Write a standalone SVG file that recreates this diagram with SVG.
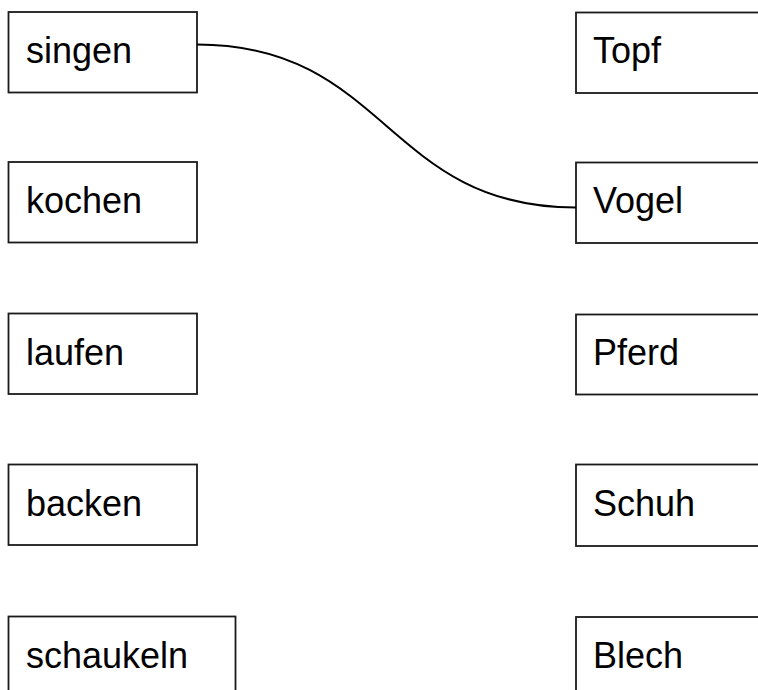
<svg xmlns="http://www.w3.org/2000/svg" width="758" height="690" viewBox="0 0 758 690">
<style>
.box{fill:#fff;stroke:#1a1a1a;stroke-width:1.8}
.t{font-family:"Liberation Sans","Noto Sans",sans-serif;font-size:36px;fill:#000}
.c{fill:none;stroke:#000;stroke-width:2}
</style>
<rect width="758" height="690" fill="#fff"/>
<g id="n-singen"><rect class="box" x="8.5" y="12" width="188.5" height="80.5"/><text class="t" x="26" y="63">singen</text></g>
<g id="n-kochen"><rect class="box" x="8.5" y="162" width="188.5" height="80.5"/><text class="t" x="26" y="213">kochen</text></g>
<g id="n-laufen"><rect class="box" x="8.5" y="313.5" width="188.5" height="80.5"/><text class="t" x="26" y="364.5">laufen</text></g>
<g id="n-backen"><rect class="box" x="8.5" y="464.5" width="188.5" height="80.5"/><text class="t" x="26" y="515.5">backen</text></g>
<g id="n-schaukeln"><rect class="box" x="8.5" y="616.5" width="227" height="90"/><text class="t" x="26" y="667.5">schaukeln</text></g>
<g id="n-topf"><rect class="box" x="576" y="12.5" width="200" height="80.5"/><text class="t" x="593" y="63">Topf</text></g>
<g id="n-vogel"><rect class="box" x="576" y="162.5" width="200" height="80.5"/><text class="t" x="593" y="213">Vogel</text></g>
<g id="n-pferd"><rect class="box" x="576" y="314.5" width="200" height="80"/><text class="t" x="593" y="364.5">Pferd</text></g>
<g id="n-schuh"><rect class="box" x="576" y="464.5" width="200" height="81.5"/><text class="t" x="593" y="515.5">Schuh</text></g>
<g id="n-blech"><rect class="box" x="576" y="617" width="200" height="90"/><text class="t" x="593" y="668">Blech</text></g>
<g id="connectors"><path class="c" d="M197,44.5 C387,44.5 386,207.5 576,207.5"/></g>
</svg>
